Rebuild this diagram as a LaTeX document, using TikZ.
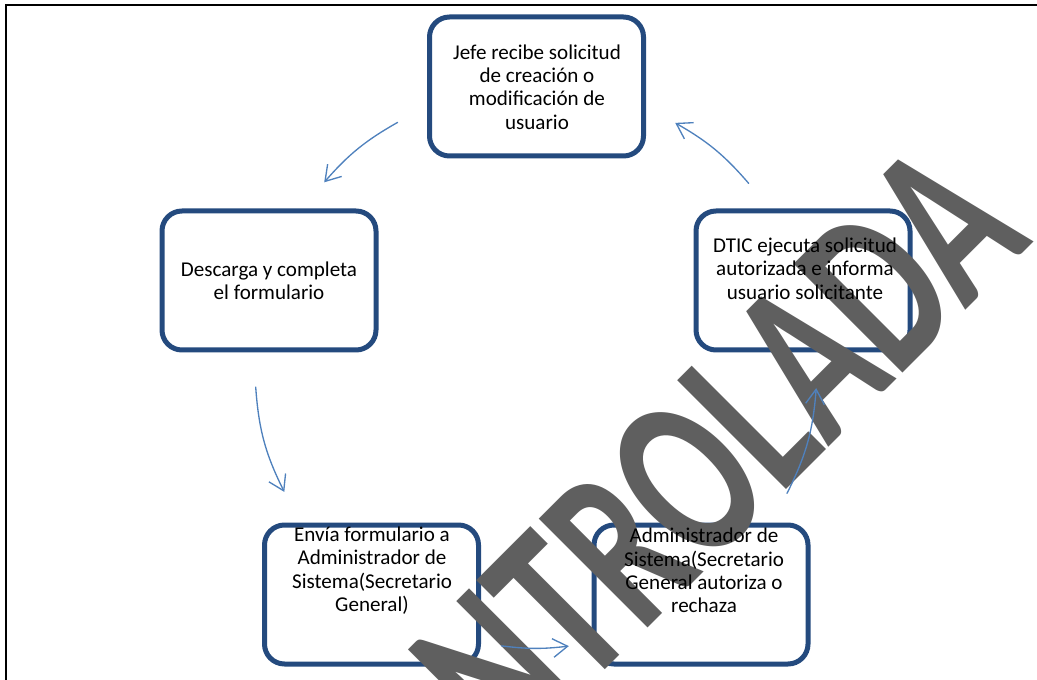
\documentclass[tikz,border=0pt]{standalone}
\usepackage{fontspec}
\setmainfont{Carlito}
\usepackage{graphicx}
\usetikzlibrary{arrows.meta}
\definecolor{boxblue}{RGB}{36,74,126}
\definecolor{flowblue}{RGB}{79,129,189}
\definecolor{wmgray}{RGB}{95,95,95}

\begin{document}
\begin{tikzpicture}[x=0.75pt,y=-0.75pt,line cap=round,
  box/.style={draw=boxblue,line width=3.75pt,fill=white,rounded corners=15pt,
    minimum width=160.5pt,minimum height=104.25pt,inner sep=0},
  txt/.style={font=\fontsize{15.8}{17.5}\selectfont,align=center,inner sep=0},
  flow/.style={draw=flowblue,line width=1pt,-{Straight Barb[length=11pt,width=14pt]}},
  wm/.style={text=wmgray,font=\fontsize{178}{178}\bfseries\selectfont,rotate=45,inner sep=0}]
  \useasboundingbox (0,0) rectangle (1037,680);
  \clip (0,0) rectangle (1037,680);
  \draw[line width=1.5pt] (6,5.5) rectangle (1060,700);

  % boxes of the cycle
  \node[box] (jefe)  at (536.5,86.5) {};
  \node[box] (desc)  at (269,280.5) {};
  \node[box] (dtic)  at (803,280.5) {};
  \node[box] (envia) at (371.5,594.5) {};
  \node[box] (admin) at (701,594.5) {};

  % watermark
  \node[wm] (wmark) at (650,517) {\scalebox{0.675}[1]{CONTROLADA}};

  % arrows on the circle
  \coordinate (a1s) at (397.6,122.4);  \coordinate (a1e) at (324.2,182.3);
  \coordinate (a2s) at (255.7,387.1);  \coordinate (a2e) at (284.3,491.9);
  \coordinate (a3s) at (501.7,645.9);  \coordinate (a3e) at (568.8,646.1);
  \coordinate (a4s) at (787.0,493.3);  \coordinate (a4e) at (816.2,388.1);
  \coordinate (a5s) at (748.7,183.4);  \coordinate (a5e) at (675.2,122.9);
  \draw[flow] (a1s) to[bend right=9.7] (a1e);
  \draw[flow] (a2s) to[bend right=11.2] (a2e);
  \draw[flow] (a3s) to[bend right=6.9] (a3e);
  \draw[flow] (a4s) to[bend right=11.2] (a4e);
  \draw[flow] (a5s) to[bend right=9.8] (a5e);

  % texts
  \node[txt] (tjefe)  at (537,87) {Jefe recibe solicitud\\de creación o\\modificación de\\usuario};
  \node[txt] (tdesc)  at (269,280.5) {Descarga y completa\\el formulario};
  \node[txt] (tdtic)  at (805,268.5) {DTIC ejecuta solicitud\\autorizada e informa\\usuario solicitante};
  \node[txt] (tenvia) at (372,570.5) {Envía formulario a\\Administrador de\\Sistema(Secretario\\General)};
  \node[txt] (tadmin) at (704,570.5) {Administrador de\\Sistema(Secretario\\General autoriza o\\rechaza};
\end{tikzpicture}
\end{document}
